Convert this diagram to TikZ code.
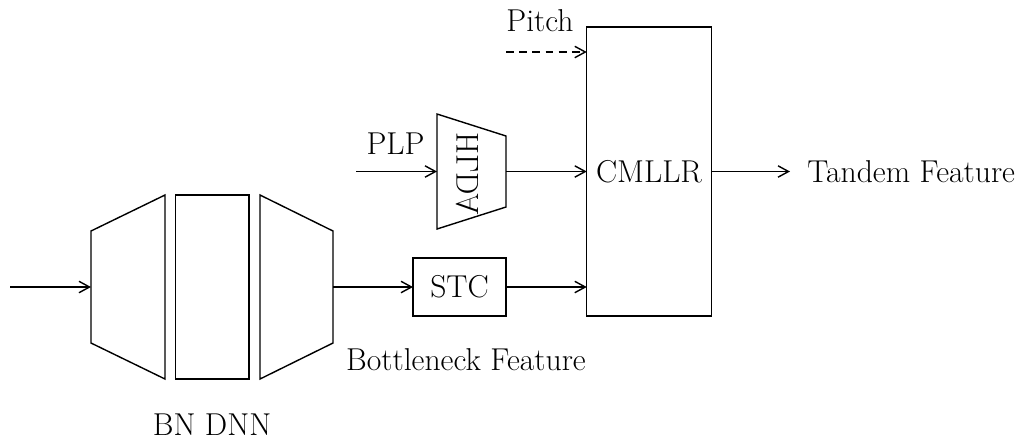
\documentclass[tikz,border=0pt]{standalone}
\usepackage{graphicx}
\usetikzlibrary{arrows.meta}
\begin{document}
\begin{tikzpicture}[x=0.02cm,y=-0.02cm, line width=0.8pt,
  >={Straight Barb[length=6pt,width=6.5pt]},
  font=\fontsize{18}{21}\selectfont,
  box/.style={draw, inner sep=0pt, outer sep=0pt},
  lbl/.style={inner sep=0pt},
  conn/.style={->},
  dashconn/.style={->, dash pattern=on 4.5pt off 3pt}]
\useasboundingbox (0,0) rectangle (1017,441);

% BN DNN
\coordinate (dnnin) at (10,287);
\draw (91,231) -- (165,195) -- (165,379) -- (91,343) -- cycle;
\coordinate (dnnL) at (91,287);
\node[box, minimum width=1.466cm, minimum height=3.68cm] (mid) at (212.3,287) {};
\draw (260,195) -- (333,231) -- (333,343) -- (260,379) -- cycle;
\coordinate (dnnR) at (333,287);
\node[lbl] (bndnn) at (212,425) {BN DNN};

% STC
\node[box, minimum width=1.86cm, minimum height=1.16cm] (stc) at (459.5,287) {STC};
\node[lbl] (bnf) at (466,360) {Bottleneck Feature};

% HLDA
\draw (437,114) -- (506,136) -- (506,207) -- (437,229) -- cycle;
\coordinate (hldaL) at (437,171.5);
\coordinate (hldaR) at (506,171.5);
\node[lbl, rotate=90] (hlda) at (467,174) {\scalebox{-1}[1]{HLDA}};
\coordinate (plpin) at (356,171.5);
\node[lbl] (plp) at (395.5,144) {PLP};

% CMLLR
\node[box, minimum width=2.49cm, minimum height=5.78cm] (cmllr) at (649,171.5) {CMLLR};
\coordinate (pitchin) at (506,52);
\node[lbl] (pitch) at (540,21) {Pitch};
\node[anchor=west, inner xsep=9.5pt, inner ysep=0pt] (tandem) at (790,171.5) {Tandem Feature};

% connectors
\draw[conn] (dnnin) -- (dnnL);
\draw[conn] (dnnR) -- (stc.west);
\draw[conn] (stc.east) -- (stc.east -| cmllr.west);
\draw[conn] (plpin) -- (hldaL);
\draw[conn] (hldaR) -- (hldaR -| cmllr.west);
\draw[dashconn] (pitchin) -- (pitchin -| cmllr.west);
\draw[conn] (cmllr.east) -- (tandem.west);
\end{tikzpicture}
\end{document}
